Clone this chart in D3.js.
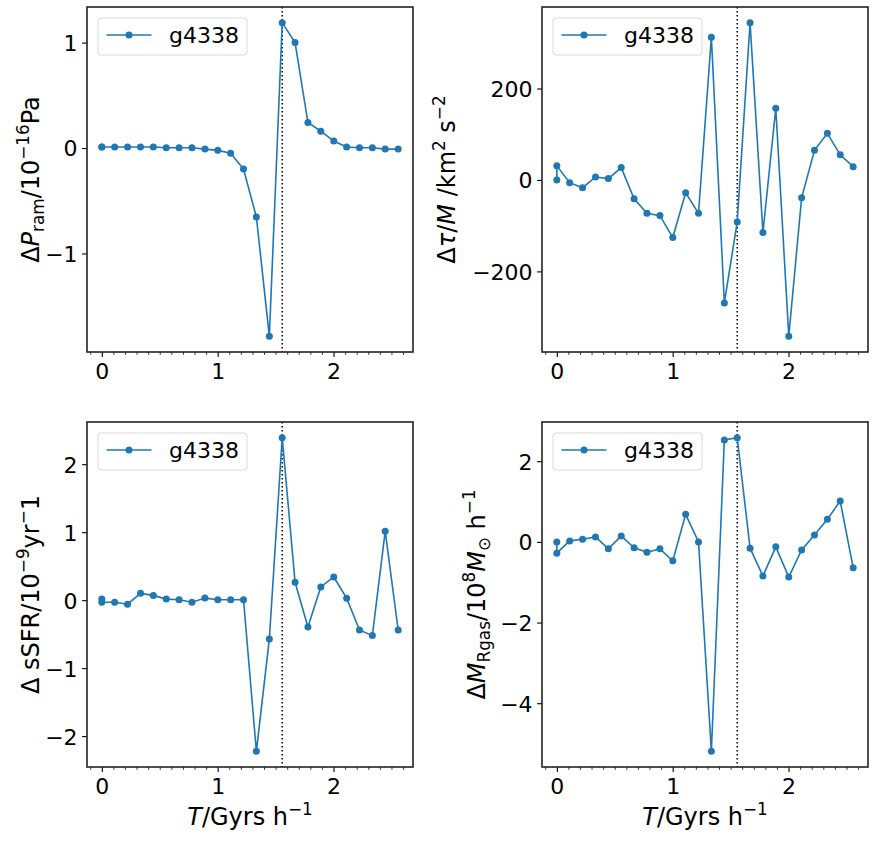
<!DOCTYPE html>
<html><head><meta charset="utf-8">
<script src="https://cdn.jsdelivr.net/npm/d3@7"></script>
<style>body{margin:0;background:#fff} svg text{font-family:"DejaVu Sans",sans-serif;fill:#000}</style>
</head><body><svg id="c" width="875" height="842"></svg>
<script>
// ---- data ----
const times = [0, 0, 0.111, 0.222, 0.334, 0.445, 0.556, 0.667, 0.778, 0.890, 1.001, 1.112, 1.223,
  1.334, 1.446, 1.557, 1.668, 1.779, 1.890, 2.002, 2.113, 2.224, 2.335, 2.446, 2.558];
const seriesName = "g4338";
const pram = [0.01, 0.01, 0.01, 0.01, 0.01, 0.01, 0.003, 0.003, 0.003, -0.01, -0.022, -0.05, -0.20,
  -0.654, -1.786, 1.189, 1.0, 0.242, 0.160, 0.066, 0.01, 0.003, 0.003, -0.01, -0.01];
const tau = [0, 31, -6, -17, 6.5, 3, 27, -41, -73, -78, -126, -28, -73, 312, -269, -92, 344, -115,
  157, -342, -39, 65, 102, 55, 29];
const ssfr = [0.015, -0.03, -0.03, -0.06, 0.10, 0.07, 0.015, 0.005, -0.03, 0.03, 0.005, 0.005, 0.005,
  -2.224, -0.571, 2.39, 0.263, -0.395, 0.195, 0.341, 0.029, -0.439, -0.522, 1.015, -0.439];
const mgas = [0, -0.28, 0.025, 0.066, 0.123, -0.173, 0.148, -0.148, -0.255, -0.173, -0.469, 0.683, 0,
  -5.193, 2.527, 2.584, -0.156, -0.848, -0.123, -0.872, -0.198, 0.173, 0.560, 1.012, -0.642];
const xTicks = [0, 1, 2];
const xMinorTicks = d3.range(-1, 27).map(d => d / 10);
const pramTicks = [-1, 0, 1];
const tauTicks = [-200, 0, 200];
const ssfrTicks = [-2, -1, 0, 1, 2];
const mgasTicks = [-4, -2, 0, 2];
const markerTime = 1.557;
const pramLabel = [{t:"Δ"},{t:"P",i:1},{t:"ram",sub:1},{t:"/10"},{t:"−16",sup:1},{t:"Pa"}];
const tauLabel = [{t:"Δ"},{t:"τ",i:1},{t:"/"},{t:"M",i:1},{t:" /km"},{t:"2",sup:1},{t:" s"},{t:"−2",sup:1}];
const ssfrLabel = [{t:"Δ sSFR/10"},{t:"−9",sup:1},{t:"yr"},{t:"−",sup:1},{t:"1"}];
const mgasLabel = [{t:"Δ"},{t:"M",i:1},{t:"Rgas",sub:1},{t:"/10"},{t:"8",sup:1},{t:"M",i:1},{t:"⊙",sub:1},{t:" h"},{t:"−1",sup:1}];
const xLabel = [{t:"T",i:1},{t:"/Gyrs h"},{t:"−1",sup:1}];

// ---- layout ----
const color = "#1f77b4";
const tickFs = 22, labelFs = 24, legendFs = 22;
const panels = [
  {vals: pram, ticks: pramTicks, box: {l:87, t:7, r:413, b:352}, label: pramLabel, labelBase: 39, xlab: false},
  {vals: tau, ticks: tauTicks, box: {l:542, t:7, r:868, b:352}, label: tauLabel, labelBase: 455, xlab: false},
  {vals: ssfr, ticks: ssfrTicks, box: {l:87, t:422, r:413, b:767}, label: ssfrLabel, labelBase: 39, xlab: true},
  {vals: mgas, ticks: mgasTicks, box: {l:542, t:422, r:868, b:767}, label: mgasLabel, labelBase: 485, xlab: true},
];

const svg = d3.select("#c");

function richText(sel, segs, fs) {
  let shift = 0;
  segs.forEach(s => {
    let target = s.sup ? -0.42 * fs : s.sub ? 0.2 * fs : 0;
    const ts = sel.append("tspan").text(s.t)
      .attr("dy", target - shift)
      .attr("font-size", (s.sup || s.sub) ? fs * 0.7 : fs);
    if (s.i) ts.attr("font-style", "italic");
    shift = target;
  });
}

function pad(ext) { const s = ext[1] - ext[0]; return [ext[0] - 0.05 * s, ext[1] + 0.05 * s]; }

panels.forEach(p => {
  const B = p.box;
  const x = d3.scaleLinear().domain(pad(d3.extent(times))).range([B.l, B.r]);
  const y = d3.scaleLinear().domain(pad(d3.extent(p.vals))).range([B.b, B.t]);
  const g = svg.append("g");

  // axes
  const xa = g.append("g").attr("transform", `translate(0,${B.b})`)
    .call(d3.axisBottom(x).tickValues(xTicks).tickFormat(d3.format("d")).tickSize(4.9).tickPadding(4.5));
  const xm = g.append("g").attr("transform", `translate(0,${B.b})`)
    .call(d3.axisBottom(x).tickValues(xMinorTicks.filter(d => Math.round(d * 10) % 10 !== 0)).tickFormat("").tickSize(2.8));
  const ya = g.append("g").attr("transform", `translate(${B.l},0)`)
    .call(d3.axisLeft(y).tickValues(p.ticks).tickFormat(d3.format("d")).tickSize(4.9).tickPadding(4.5));
  [xa, xm, ya].forEach(a => {
    a.select(".domain").remove();
    a.selectAll("line").attr("stroke", "#000").attr("stroke-width", 1.1);
    a.selectAll("text").attr("font-size", tickFs).attr("font-family", "DejaVu Sans").attr("fill", "#000");
  });
  xm.selectAll("line").attr("stroke-width", 0.8);
  xa.selectAll("text").attr("dy", null).attr("y", 27);
  ya.selectAll("text").attr("dy", "0.36em");

  // dotted vertical line
  g.append("line").attr("x1", x(markerTime)).attr("x2", x(markerTime))
    .attr("y1", B.t).attr("y2", B.b).attr("stroke", "#000").attr("stroke-width", 1.5)
    .attr("stroke-dasharray", "1.5,2.5");

  // series
  const pts = times.map((t, i) => [t, p.vals[i]]);
  g.append("path").datum(pts)
    .attr("d", d3.line().x(d => x(d[0])).y(d => y(d[1])))
    .attr("fill", "none").attr("stroke", color).attr("stroke-width", 1.6);
  g.selectAll("circle.pt").data(pts).join("circle").attr("class", "pt")
    .attr("cx", d => x(d[0])).attr("cy", d => y(d[1])).attr("r", 3.5).attr("fill", color);

  // frame
  g.append("rect").attr("x", B.l).attr("y", B.t).attr("width", B.r - B.l).attr("height", B.b - B.t)
    .attr("fill", "none").attr("stroke", "#222").attr("stroke-width", 1.6);

  // legend
  const lg = g.append("g").attr("transform", `translate(${B.l + 11},${B.t + 11})`);
  lg.append("rect").attr("width", 149).attr("height", 37).attr("rx", 3)
    .attr("fill", "#fff").attr("fill-opacity", 0.8).attr("stroke", "#d9d9d9").attr("stroke-width", 1);
  lg.append("line").attr("x1", 8.5).attr("x2", 53.5).attr("y1", 17).attr("y2", 17)
    .attr("stroke", color).attr("stroke-width", 1.6);
  lg.append("circle").attr("cx", 31).attr("cy", 17).attr("r", 3.5).attr("fill", color);
  lg.append("text").attr("x", 71).attr("y", 25).attr("font-size", legendFs).text(seriesName);

  // y label
  const cy = (B.t + B.b) / 2;
  const yl = g.append("text").attr("text-anchor", "middle")
    .attr("transform", `translate(${p.labelBase},${cy}) rotate(-90)`).attr("font-size", labelFs);
  richText(yl, p.label, labelFs);

  // x label
  if (p.xlab) {
    const xl = g.append("text").attr("text-anchor", "middle")
      .attr("x", (B.l + B.r) / 2).attr("y", B.b + 58).attr("font-size", labelFs);
    richText(xl, xLabel, labelFs);
  }
});
</script></body></html>
